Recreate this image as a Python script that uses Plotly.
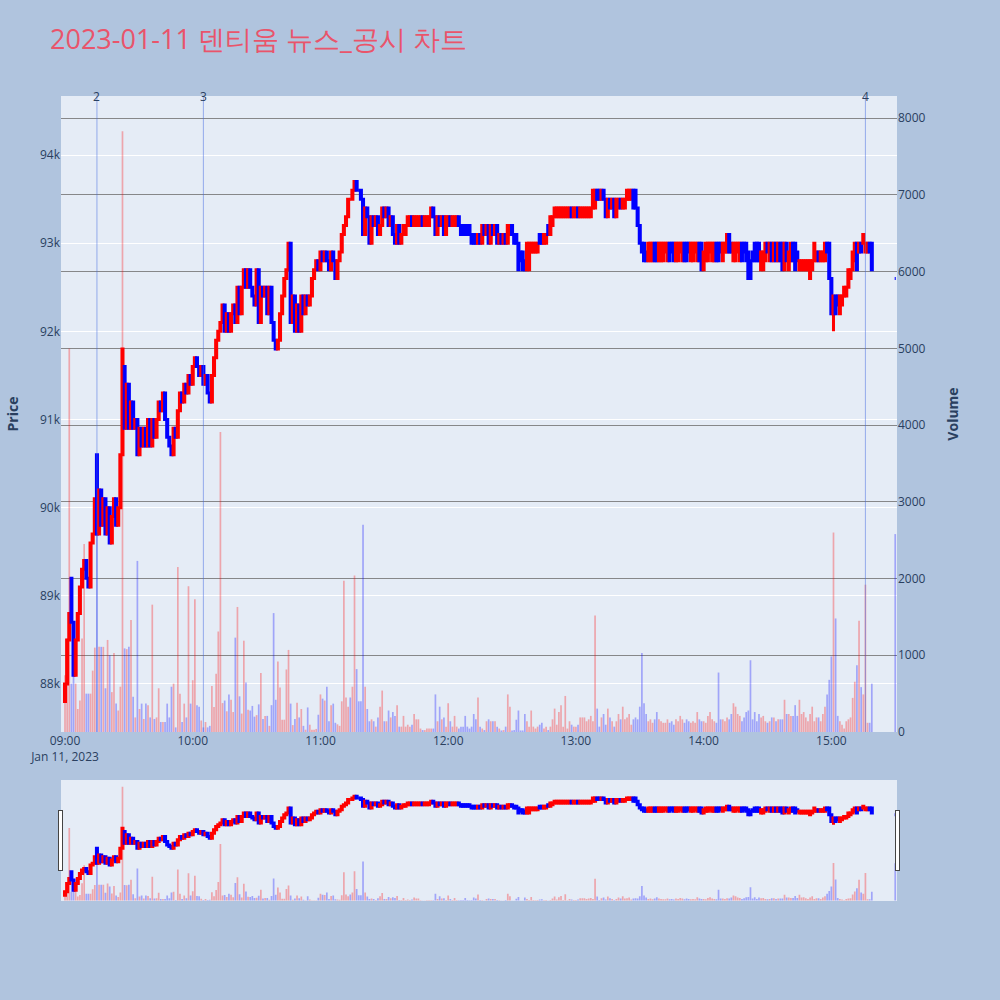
import pandas as pd
import plotly.graph_objects as go

TITLE = "2023-01-11 덴티움 뉴스_공시 차트"
SESSION_START = "2023-01-11 09:00"
N_MINUTES = 380
CLOSE_AUCTION_TIME = "2023-01-11 15:30"

# minute opens (KRW / 100), 09:00 .. 15:19
open_h = [
    878, 880, 885, 892, 887, 881, 885, 888, 891, 893,
    894, 892, 891, 896, 897, 906, 897, 902, 898, 901,
    897, 900, 896, 899, 901, 898, 900, 906, 916, 909,
    914, 909, 912, 909, 910, 906, 909, 907, 909, 907,
    910, 907, 910, 908, 910, 912, 911, 913, 910, 908,
    907, 906, 909, 908, 911, 913, 912, 914, 913, 915,
    914, 916, 917, 916, 915, 916, 914, 915, 913, 912,
    915, 917, 919, 920, 921, 923, 920, 922, 920, 922,
    923, 921, 925, 922, 925, 927, 925, 927, 925, 924,
    923, 927, 921, 925, 924, 925, 922, 925, 921, 919,
    918, 919, 922, 924, 926, 927, 930, 921, 924, 920,
    923, 920, 924, 922, 924, 923, 924, 926, 927, 928,
    927, 929, 928, 929, 928, 927, 929, 928, 926, 928,
    929, 931, 932, 933, 935, 935, 936, 937, 936, 936,
    935, 931, 934, 933, 930, 933, 932, 933, 931, 932,
    934, 933, 934, 932, 933, 931, 930, 932, 930, 931,
    931, 932, 932, 933, 932, 932, 932, 932, 933, 932,
    932, 932, 933, 934, 933, 931, 933, 932, 933, 931,
    932, 933, 932, 932, 932, 933, 932, 932, 932, 932,
    932, 931, 931, 931, 930, 931, 930, 932, 931, 932,
    930, 932, 931, 932, 930, 931, 930, 931, 930, 931,
    932, 931, 931, 930, 929, 929, 928, 927, 927, 929,
    929, 929, 929, 931, 931, 930, 930, 932, 931, 932,
    933, 933, 933, 933, 933, 933, 933, 933, 934, 933,
    933, 934, 933, 933, 933, 933, 933, 933, 934, 934,
    936, 936, 935, 936, 935, 933, 935, 934, 935, 933,
    934, 935, 934, 934, 935, 935, 935, 936, 936, 934,
    932, 930, 930, 929, 928, 928, 928, 930, 930, 928,
    928, 928, 929, 928, 930, 930, 930, 928, 928, 929,
    928, 930, 930, 930, 928, 928, 929, 928, 930, 930,
    927, 928, 928, 929, 928, 928, 930, 930, 930, 928,
    929, 929, 931, 930, 928, 928, 929, 928, 930, 930,
    930, 929, 928, 929, 930, 930, 930, 927, 927, 928,
    930, 928, 930, 928, 930, 928, 930, 930, 927, 930,
    927, 928, 930, 930, 929, 927, 927, 927, 927, 927,
    926, 927, 928, 928, 929, 928, 928, 928, 930, 930,
    926, 922, 924, 924, 922, 923, 924, 924, 925, 926,
    927, 928, 930, 929, 930, 930, 929, 929, 930, 930,
]

# minute closes (KRW / 100)
close_h = [
    880, 885, 888, 887, 881, 885, 888, 891, 893, 894,
    892, 891, 896, 897, 901, 897, 902, 898, 901, 897,
    900, 896, 899, 901, 898, 900, 906, 918, 909, 914,
    909, 912, 909, 910, 906, 909, 907, 909, 907, 910,
    907, 910, 908, 910, 912, 911, 913, 910, 908, 907,
    906, 909, 908, 911, 913, 912, 914, 913, 915, 914,
    916, 917, 916, 915, 916, 914, 915, 913, 912, 915,
    917, 919, 920, 921, 923, 920, 922, 920, 922, 923,
    921, 925, 922, 925, 927, 925, 927, 925, 924, 923,
    927, 921, 925, 924, 925, 922, 925, 921, 919, 918,
    919, 922, 924, 926, 927, 930, 921, 924, 920, 923,
    920, 924, 922, 924, 923, 924, 926, 927, 928, 927,
    929, 928, 929, 928, 927, 929, 928, 926, 928, 929,
    931, 932, 933, 935, 935, 936, 937, 936, 936, 935,
    931, 934, 933, 930, 933, 932, 933, 931, 932, 934,
    933, 934, 932, 933, 931, 930, 932, 930, 931, 932,
    932, 933, 933, 932, 933, 933, 933, 933, 932, 933,
    933, 933, 934, 933, 931, 933, 932, 933, 931, 933,
    933, 932, 933, 933, 933, 932, 931, 931, 931, 931,
    931, 930, 930, 930, 931, 930, 932, 931, 932, 930,
    932, 931, 932, 930, 931, 930, 931, 930, 932, 932,
    931, 930, 930, 927, 928, 927, 927, 930, 930, 930,
    930, 930, 930, 930, 930, 931, 931, 931, 933, 933,
    934, 934, 934, 934, 934, 934, 934, 934, 933, 934,
    934, 933, 934, 934, 934, 934, 934, 934, 936, 936,
    935, 935, 936, 935, 933, 935, 934, 935, 933, 935,
    935, 934, 935, 935, 936, 936, 936, 934, 934, 932,
    930, 929, 928, 928, 930, 930, 930, 928, 928, 930,
    930, 930, 930, 930, 928, 929, 928, 930, 930, 930,
    930, 928, 928, 929, 930, 930, 930, 930, 928, 927,
    929, 930, 930, 930, 930, 930, 928, 928, 929, 930,
    930, 931, 929, 929, 930, 930, 930, 930, 928, 929,
    928, 926, 926, 928, 928, 928, 928, 929, 929, 930,
    929, 930, 928, 930, 928, 930, 928, 927, 930, 928,
    929, 930, 928, 927, 928, 928, 928, 928, 928, 928,
    928, 928, 930, 929, 928, 929, 929, 930, 929, 926,
    922, 924, 922, 923, 924, 924, 925, 925, 927, 927,
    929, 930, 927, 930, 929, 931, 930, 930, 929, 927,
]

# wick lows that reach below the body (minute index -> KRW)
low_override = {361: 92000}

# minute volumes
volume = [
    740, 1220, 5000, 630, 1330, 630, 300, 410, 1220, 2450,
    500, 500, 500, 800, 1100, 2600, 1110, 1110, 1110, 570,
    1200, 1000, 520, 1030, 370, 280, 590, 7830, 1090, 1080,
    1110, 1460, 460, 190, 2230, 300, 370, 170, 370, 350,
    190, 1660, 170, 190, 570, 130, 130, 130, 370, 190,
    590, 630, 60, 2150, 500, 130, 370, 190, 1900, 370,
    675, 1730, 350, 330, 150, 60, 130, 60, 80, 600,
    325, 760, 1310, 3910, 377, 410, 270, 490, 420, 260,
    1230, 1630, 465, 240, 1190, 645, 290, 280, 340, 200,
    220, 360, 770, 170, 210, 210, 80, 350, 1550, 420,
    920, 580, 160, 160, 815, 1070, 370, 90, 170, 380,
    190, 300, 80, 30, 320, 95, 30, 30, 40, 225,
    490, 435, 410, 590, 140, 350, 370, 120, 100, 80,
    400, 1970, 450, 330, 450, 590, 2040, 820, 400, 400,
    2700, 590, 300, 140, 165, 140, 70, 190, 330, 540,
    140, 140, 280, 190, 260, 210, 350, 70, 70, 210,
    70, 95, 70, 95, 235, 165, 165, 45, 25, 25,
    45, 45, 45, 45, 490, 140, 330, 165, 190, 70,
    375, 140, 70, 210, 70, 45, 70, 70, 210, 70,
    45, 70, 235, 165, 450, 70, 45, 25, 140, 165,
    140, 140, 140, 70, 45, 20, 25, 70, 490, 330,
    20, 25, 160, 280, 20, 20, 235, 140, 70, 280,
    70, 45, 70, 95, 120, 45, 70, 25, 70, 165,
    305, 95, 260, 350, 70, 470, 45, 140, 95, 70,
    70, 95, 190, 190, 190, 140, 165, 210, 140, 1520,
    305, 70, 190, 235, 95, 305, 190, 140, 70, 140,
    235, 165, 330, 165, 190, 235, 95, 165, 190, 165,
    330, 1030, 375, 235, 140, 165, 120, 165, 260, 165,
    140, 120, 120, 165, 120, 140, 95, 165, 140, 210,
    165, 120, 165, 140, 120, 140, 120, 260, 165, 140,
    140, 120, 210, 260, 165, 140, 120, 775, 165, 165,
    140, 190, 165, 235, 375, 330, 235, 210, 140, 190,
    260, 280, 935, 165, 260, 140, 235, 190, 210, 140,
    120, 140, 190, 190, 140, 165, 165, 165, 420, 235,
    235, 210, 210, 350, 210, 420, 235, 260, 190, 140,
    235, 330, 140, 190, 190, 140, 235, 330, 490, 680,
    985, 2600, 1480, 210, 140, 95, 45, 140, 165, 190,
    445, 655, 870, 1450, 585, 490, 1920, 120, 120, 630,
]

# closing auction (15:30)
auction_price = 92600
auction_volume = 2580

# news / disclosure markers
event_labels = ["2", "3", "4"]
event_times = ["2023-01-11 09:15", "2023-01-11 10:05", "2023-01-11 15:16"]

X_RANGE = ["2023-01-11 08:58:07", "2023-01-11 15:30:50"]

# ---------- build OHLC ----------
times = list(pd.date_range(SESSION_START, periods=N_MINUTES, freq="min"))
opens = [v * 100 for v in open_h]
closes = [v * 100 for v in close_h]
highs = [max(o, c) for o, c in zip(opens, closes)]
lows = [low_override.get(i, min(o, c)) for i, (o, c) in enumerate(zip(opens, closes))]

times.append(pd.Timestamp(CLOSE_AUCTION_TIME))
opens.append(auction_price)
highs.append(auction_price)
lows.append(auction_price)
closes.append(auction_price)
vols = volume + [auction_volume]

bar_colors = []
last = None
for o, c in zip(opens, closes):
    if c > o:
        up = True
    elif c < o:
        up = False
    else:
        up = last is not None and c > last
    bar_colors.append("rgba(255,0,0,0.3)" if up else "rgba(0,0,255,0.3)")
    last = c

fig = go.Figure()
fig.add_trace(go.Candlestick(
    x=times, open=opens, high=highs, low=lows, close=closes,
    increasing=dict(line=dict(color="red", width=3), fillcolor="red"),
    decreasing=dict(line=dict(color="blue", width=3), fillcolor="blue"),
    name="Price", showlegend=False, yaxis="y",
))
fig.add_trace(go.Bar(
    x=times, y=vols, marker=dict(color=bar_colors, line=dict(width=0)),
    name="Volume", showlegend=False, yaxis="y2",
))

for lab, t in zip(event_labels, event_times):
    fig.add_shape(type="line", xref="x", yref="paper", x0=t, x1=t, y0=0, y1=1,
                  line=dict(color="rgba(65,105,225,0.5)", width=1))
    fig.add_annotation(x=t, y=1, xref="x", yref="paper", text=lab, showarrow=False,
                       yanchor="middle", font=dict(size=12, color="#2a3f5f"))

fig.update_layout(
    width=1000, height=1000,
    paper_bgcolor="#B0C4DE", plot_bgcolor="#E5ECF6",
    title=dict(text=TITLE, x=0.05, xanchor="left", y=0.96, yanchor="middle",
               font=dict(size=27, color="#E9546B")),
    margin=dict(l=60, r=103, t=96, b=100),
    showlegend=False,
    xaxis=dict(
        type="date",
        range=X_RANGE,
        showgrid=False,
        rangeslider=dict(visible=True, thickness=0.15, bgcolor="#E5ECF6", range=X_RANGE),
    ),
    yaxis=dict(title=dict(text="<b>Price</b>", standoff=18), range=[87455, 94670],
               gridcolor="white", zeroline=False),
    yaxis2=dict(title=dict(text="<b>Volume</b>", standoff=23), overlaying="y", side="right",
                range=[0, 8290], dtick=1000, gridcolor="rgba(110,110,110,0.8)",
                zeroline=False, showgrid=True),
    bargap=0.2,
)

fig.write_html("out.html", config={"displayModeBar": False},
               post_script="document.body.style.margin='0px';")
